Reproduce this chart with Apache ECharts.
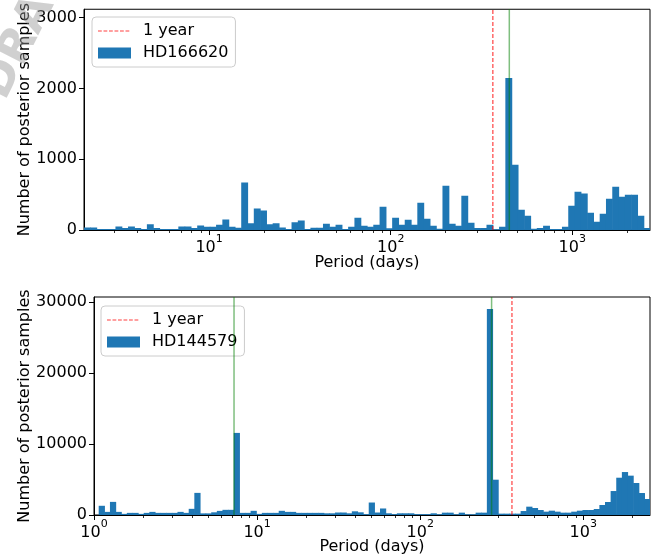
<!DOCTYPE html>
<html><head><meta charset="utf-8">
<script src="https://cdn.jsdelivr.net/npm/echarts@6/dist/echarts.min.js"></script>
<style>html,body{margin:0;padding:0;background:#fff}#c{width:657px;height:559px}</style>
</head><body><div id="c"></div>
<script>
// ---------------- data ----------------
const topLabel = 'HD166620';
const bottomLabel = 'HD144579';
const yearLabel = '1 year';
const yearDays = 365.25;
const topSignalPeriods = [450];
const bottomSignalPeriods = [7.22, 274];

// histogram counts (log-spaced bins)
const topCounts = [35,35,15,15,15,50,30,50,30,15,
  80,30,15,15,15,50,50,30,65,45,
  45,75,150,45,33,672,94,305,277,80,
  94,35,15,108,136,15,33,33,87,47,
  75,14,47,174,61,47,75,329,26,174,
  75,146,75,386,160,61,17,625,89,61,
  484,103,30,30,75,10,47,2148,921,287,
  202,17,30,61,14,14,47,343,541,515,
  245,118,230,442,611,470,498,498,202,28];
const bottomCounts = [1300,440,1850,440,160,300,300,160,300,440,
  300,300,300,300,440,300,870,3120,230,230,
  380,580,730,730,11580,300,300,590,160,300,
  300,300,590,440,440,300,300,300,300,300,
  240,240,350,350,240,520,380,120,1760,350,
  920,240,120,240,240,240,120,120,120,240,
  110,330,330,100,330,100,100,330,330,29050,
  4980,190,190,190,190,560,1175,990,705,470,
  610,470,330,330,470,610,705,705,845,1410,
  1830,3380,5260,6060,5550,4510,3100,2260];

// bin range in log10(period)
const topBinLogRange = [0.311, 3.428];
const bottomBinLogRange = [0.0288, 3.409];
// axis ranges
const topXRange = [Math.pow(10, 0.311), Math.pow(10, 3.428)];
const bottomXRange = [1, Math.pow(10, 3.409)];
const topYMax = 3120;
const bottomYMax = 30750;
const topYTicks = [0, 1000, 2000, 3000];
const bottomYTicks = [0, 10000, 20000, 30000];
const majorXTicks = [1, 10, 100, 1000];
const minorXTicks = [2,3,4,5,6,7,8,9,20,30,40,50,60,70,80,90,200,300,400,500,600,700,800,900,2000,3000,4000,5000,6000,7000,8000,9000];
const xTitle = 'Period (days)';
const yTitle = 'Number of posterior samples';

// ---------------- chart ----------------
const FONT = 'DejaVu Sans';
const BLUE = '#1f77b4';
const RED = 'rgba(255,0,0,0.75)';

function logEdges(range, n) {
  const e = [];
  for (let i = 0; i <= n; i++) e.push(Math.pow(10, range[0] + (range[1] - range[0]) * i / n));
  return e;
}
function histSeries(name, counts, range, idx) {
  const edges = logEdges(range, counts.length);
  const data = counts.map((c, i) => [edges[i], edges[i + 1], c]);
  return {
    type: 'custom', name: name, xAxisIndex: idx * 2, yAxisIndex: idx, clip: true, z: 2,
    itemStyle: { color: BLUE },
    encode: { x: [0, 1], y: 2 },
    renderItem: function (params, api) {
      const p0 = api.coord([api.value(0), 0]);
      const p1 = api.coord([api.value(1), api.value(2)]);
      return { type: 'rect', shape: { x: p0[0], y: p1[1], width: p1[0] - p0[0] + 0.6, height: p0[1] - p1[1] },
        style: { fill: BLUE } };
    },
    data: data
  };
}
function vline(name, x, ymax, idx, style) {
  return { type: 'line', name: name, xAxisIndex: idx * 2, yAxisIndex: idx, symbol: 'none', z: 5,
    silent: true, animation: false, lineStyle: style, itemStyle: { color: style.color },
    data: [[x, 0], [x, ymax]] };
}
const redStyle = { color: RED, width: 1.2, type: [4, 2] };
const greenStyle = { color: 'rgba(0,128,0,0.5)', width: 1.5, type: 'solid' };

// dashed-line legend icon (33 x 11 box, dashes in the middle)
let dashPath = 'path://M0,0L0.02,0L0,0.02Z M33,11L32.98,11L33,10.98Z';
for (let x = 0; x < 33; x += 5.5) {
  const w = Math.min(3.8, 33 - x);
  dashPath += ' M' + x + ',4.9L' + (x + w) + ',4.9L' + (x + w) + ',6.1L' + x + ',6.1Z';
}

function supFmt(v) {
  const e = Math.round(Math.log10(v));
  return '{b|10}{s|' + e + '}';
}
const supRich = {
  b: { fontSize: 16, fontFamily: FONT, color: '#000', lineHeight: 22, verticalAlign: 'bottom' },
  s: { fontSize: 11, fontFamily: FONT, color: '#000', lineHeight: 10, verticalAlign: 'top' }
};
function xAxes(gi, range, gap) {
  return [{
    type: 'log', logBase: 10, gridIndex: gi, min: range[0], max: range[1], position: 'bottom',
    axisLine: { show: true, onZero: false, lineStyle: { color: '#000', width: 1 } },
    axisTick: { show: true, length: 5, lineStyle: { color: '#000', width: 1 }, customValues: majorXTicks },
    axisLabel: { show: true, margin: 4, formatter: supFmt, rich: supRich, customValues: majorXTicks },
    splitLine: { show: false }, minorTick: { show: false },
    name: xTitle, nameLocation: 'middle', nameGap: gap, nameMoveOverlap: false,
    nameTextStyle: { fontSize: 16, fontFamily: FONT, color: '#000' }
  }, {
    type: 'log', logBase: 10, gridIndex: gi, min: range[0], max: range[1], position: 'bottom',
    axisLine: { show: false, onZero: false },
    axisTick: { show: true, length: 3, lineStyle: { color: '#000', width: 0.8 }, customValues: minorXTicks },
    axisLabel: { show: false }, splitLine: { show: false }
  }];
}
function yAxis(gi, max, ticks, gap) {
  return {
    type: 'value', gridIndex: gi, min: 0, max: max,
    axisLine: { show: true, lineStyle: { color: '#000', width: 1 } },
    axisTick: { show: true, length: 5, lineStyle: { color: '#000', width: 1 }, customValues: ticks },
    axisLabel: { margin: 7, fontSize: 16, fontFamily: FONT, color: '#000', customValues: ticks,
      formatter: function (v) { return String(v); } },
    splitLine: { show: false },
    name: yTitle, nameLocation: 'middle', nameGap: gap, nameRotate: 90, nameMoveOverlap: false,
    nameTextStyle: { fontSize: 16, fontFamily: FONT, color: '#000' }
  };
}
function legend(left, top, name) {
  return {
    orient: 'vertical', left: left, top: top,
    data: [{ name: yearLabel, icon: dashPath }, { name: name, icon: 'rect' }],
    itemWidth: 33, itemHeight: 11, itemGap: 6,
    padding: [6, 7, 6, 6],
    borderColor: '#cccccc', borderWidth: 1, borderRadius: 4,
    backgroundColor: 'rgba(255,255,255,0.8)',
    textStyle: { fontSize: 16, fontFamily: FONT, color: '#000', padding: [0, 0, 0, 7] },
    selectedMode: false
  };
}

const series = [
  histSeries(topLabel, topCounts, topBinLogRange, 0),
  histSeries(bottomLabel, bottomCounts, bottomBinLogRange, 1),
  vline(yearLabel, yearDays, topYMax, 0, redStyle),
  vline(yearLabel, yearDays, bottomYMax, 1, redStyle)
];
topSignalPeriods.forEach(p => series.push(vline('signal', p, topYMax, 0, greenStyle)));
bottomSignalPeriods.forEach(p => series.push(vline('signal', p, bottomYMax, 1, greenStyle)));

const chart = echarts.init(document.getElementById('c'), null, { renderer: 'canvas' });
chart.setOption({
  animation: false,
  textStyle: { fontFamily: FONT },
  grid: [
    { left: 84, top: 9, width: 566, height: 221, show: true, borderColor: '#000', borderWidth: 1, backgroundColor: 'transparent' },
    { left: 94, top: 297, width: 556, height: 218, show: true, borderColor: '#000', borderWidth: 1, backgroundColor: 'transparent' }
  ],
  xAxis: xAxes(0, topXRange, 25).concat(xAxes(1, bottomXRange, 24)),
  yAxis: [yAxis(0, topYMax, topYTicks, 51), yAxis(1, bottomYMax, bottomYTicks, 61)],
  legend: [legend(92, 17, topLabel), legend(101, 306, bottomLabel)],
  graphic: [{
    type: 'text', x: -6, y: 96, rotation: 1.1, z: 100, silent: true,
    style: { text: 'DRAFT', font: 'bold 46px "DejaVu Sans"', fill: 'rgba(150,150,150,0.45)', textVerticalAlign: 'middle' }
  }],
  series: series
});
</script></body></html>
